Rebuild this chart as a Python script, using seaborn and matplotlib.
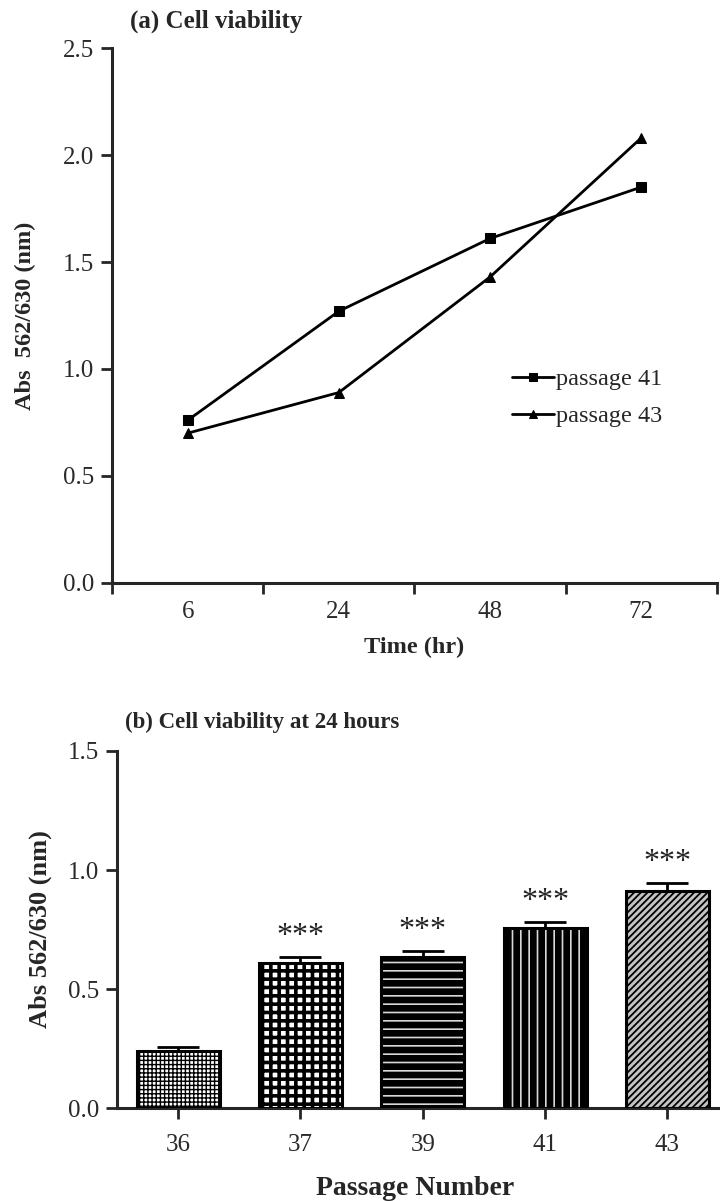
import numpy as np
import pandas as pd
import seaborn as sns
import matplotlib.pyplot as plt
from matplotlib.patches import Rectangle

# ---- дані (a): лінійний графік ----
time_labels = ["6", "24", "48", "72"]
passage41 = [0.76, 1.27, 1.61, 1.85]
passage43 = [0.70, 0.89, 1.43, 2.08]
series_names = ["passage 41", "passage 43"]

# ---- дані (b): стовпчики ----
passage_numbers = ["36", "37", "39", "41", "43"]
viability_24h = [0.24, 0.61, 0.635, 0.755, 0.91]
viability_sem = [0.015, 0.025, 0.025, 0.027, 0.035]
signif = ["", "***", "***", "***", "***"]

sns.set_style("ticks")
plt.rcParams['font.family'] = ['Liberation Serif', 'DejaVu Serif']
plt.rcParams['hatch.linewidth'] = 1.0

fig = plt.figure(figsize=(7.2, 12.01), dpi=100)
ax1 = fig.add_axes([0.1556, 0.5146, 0.840, 0.4454])
ax2 = fig.add_axes([0.1625, 0.0774, 0.8375, 0.2973])

tick_color = "#2a2a2a"

# ---------- (a) ----------
df_a = pd.DataFrame({
    "time": time_labels * 2,
    "abs": passage41 + passage43,
    "passage": [series_names[0]] * 4 + [series_names[1]] * 4,
})
sns.lineplot(data=df_a, x="time", y="abs", hue="passage", style="passage",
             markers=["s", "^"], dashes=False, palette=["black", "black"],
             markersize=7.5, linewidth=2, markeredgecolor="black", ax=ax1)

ax1.set_xlim(-0.5, 3.5)
ax1.set_ylim(0, 2.5)
ax1.set_yticks([0, 0.5, 1.0, 1.5, 2.0, 2.5])
ax1.set_yticklabels(["0.0", "0.5", "1.0", "1.5", "2.0", "2.5"])
ax1.set_xticks([-0.5, 0.5, 1.5, 2.5, 3.5])
ax1.set_xticklabels([])
ax1.set_xticks(range(len(time_labels)), minor=True)
ax1.set_xticklabels(time_labels, minor=True)
ax1.tick_params(axis="x", which="minor", length=0, pad=13, labelsize=18, labelcolor=tick_color)
ax1.tick_params(axis="x", which="major", length=8, width=2, direction="out")
ax1.tick_params(axis="y", length=8, width=2, direction="out", pad=5, labelsize=18, labelcolor=tick_color)
sns.despine(ax=ax1)
for s in ["left", "bottom"]:
    ax1.spines[s].set_linewidth(2.2)

ax1.set_xlabel("Time (hr)", fontsize=17.5, fontweight="bold")
ax1.set_ylabel("Abs  562/630 (nm)", fontsize=17.5, fontweight="bold")
ax1.xaxis.set_label_coords(0.5, -0.100)
ax1.yaxis.set_label_coords(-0.126, 0.5)
ax1.text(0.03, 1.028, "(a) Cell viability", transform=ax1.transAxes,
         fontsize=18, fontweight="bold", ha="left", va="bottom")

h, l = ax1.get_legend_handles_labels()
leg = ax1.legend(h, l, loc="upper left", bbox_to_anchor=(0.646, 0.42), frameon=False,
                 fontsize=17.5, handlelength=1.7, handletextpad=0.1, labelspacing=0.62,
                 borderaxespad=0)
for lh in leg.legend_handles:
    lh.set_markersize(6)

# ---------- (b) ----------
df_b = pd.DataFrame({"passage": passage_numbers, "abs": viability_24h})
sns.barplot(data=df_b, x="passage", y="abs", color="white", width=0.68,
            errorbar=None, ax=ax2)

# штрихування як в оригіналі: (заливка, колір штриха, штрих, товщина)
styles = [
    ("white", "black", "++++", 1.0),
    ("white", "black", "++", 2.6),
    ("black", "#d8d8d8", "--", 1.2),
    ("black", "#d8d8d8", "||", 1.2),
    ("#c4c4c4", "black", "/////", 1.3),
]
bars = list(ax2.patches)
centers = []
for bar, (fc, hc, hatch, hlw) in zip(bars, styles):
    bar.set_facecolor(fc)
    bar.set_edgecolor(hc)
    bar.set_hatch(hatch)
    bar.set_linewidth(0)
    if hasattr(bar, "set_hatch_linewidth"):
        bar.set_hatch_linewidth(hlw)
    border = Rectangle(bar.get_xy(), bar.get_width(), bar.get_height(),
                       fill=False, edgecolor="black", linewidth=2.2, zorder=3)
    ax2.add_patch(border)
    centers.append(bar.get_x() + bar.get_width() / 2)

ax2.errorbar(centers, viability_24h, yerr=[np.zeros(len(viability_sem)), viability_sem],
             fmt="none", ecolor="black", elinewidth=2, capsize=15, capthick=2, zorder=4)

for x, y, e, s in zip(centers, viability_24h, viability_sem, signif):
    if s:
        ax2.text(x, y + e + 0.025, s, ha="center", va="bottom", fontsize=23, color="#222222")

ax2.set_xlim(-0.5, 4.43)
ax2.set_ylim(0, 1.5)
ax2.set_yticks([0, 0.5, 1.0, 1.5])
ax2.set_yticklabels(["0.0", "0.5", "1.0", "1.5"])
ax2.tick_params(axis="both", length=8, width=2, direction="out", labelsize=18, labelcolor=tick_color)
ax2.tick_params(axis="x", pad=11)
ax2.tick_params(axis="y", pad=5)
sns.despine(ax=ax2)
for s in ["left", "bottom"]:
    ax2.spines[s].set_linewidth(2.2)

ax2.set_xlabel("Passage Number", fontsize=20, fontweight="bold")
ax2.set_ylabel("Abs 562/630 (nm)", fontsize=19, fontweight="bold")
ax2.xaxis.set_label_coords(0.494, -0.19)
ax2.yaxis.set_label_coords(-0.108, 0.5)
ax2.text(0.013, 1.05, "(b) Cell viability at 24 hours", transform=ax2.transAxes,
         fontsize=16.5, fontweight="bold", ha="left", va="bottom")

fig.savefig("out.png", dpi=100)
